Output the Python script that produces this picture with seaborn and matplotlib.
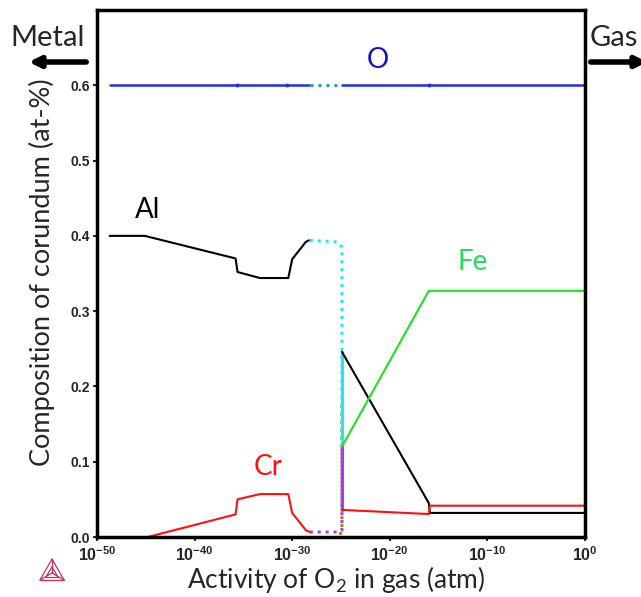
import numpy as np
import matplotlib.pyplot as plt
import seaborn as sns
from matplotlib.lines import Line2D
from matplotlib.ticker import NullLocator

# x values are log10(activity of O2)
o_solid1_logx = [-48.7, -28.3]
o_solid1_y = [0.6, 0.6]
o_dot_logx = [-28.2, -24.9]
o_dot_y = [0.6, 0.6]
o_solid2_logx = [-24.9, 0.0]
o_solid2_y = [0.6, 0.6]
o_mark_logx = [-35.7, -30.5, -16.0]
o_mark_y = [0.6, 0.6, 0.6]

al1_logx = [-48.7, -45.1, -35.8, -35.6, -33.3, -30.4, -30.0, -28.6, -28.3]
al1_y = [0.400, 0.400, 0.370, 0.352, 0.344, 0.344, 0.369, 0.392, 0.394]
al_dot_logx = [-28.2, -25.4, -24.9, -24.9]
al_dot_y = [0.394, 0.392, 0.385, 0.120]
al_cyan_logx = [-24.9, -24.9]
al_cyan_y = [0.246, 0.120]
al2_logx = [-24.9, -16.0, -15.9, 0.0]
al2_y = [0.246, 0.045, 0.032, 0.032]

cr1_logx = [-44.8, -35.8, -35.6, -33.3, -30.4, -30.0, -29.2, -28.6, -28.2]
cr1_y = [0.0, 0.030, 0.050, 0.057, 0.057, 0.032, 0.019, 0.009, 0.0066]
cr_dot_logx = [-28.2, -25.3, -24.9, -24.9]
cr_dot_y = [0.0066, 0.0066, 0.009, 0.120]
cr_purple_logx = [-24.9, -24.9]
cr_purple_y = [0.120, 0.036]
cr2_logx = [-24.9, -16.0, -15.9, 0.0]
cr2_y = [0.036, 0.0305, 0.0416, 0.0416]

fe_dot_logx = [-25.1, -24.9, -24.9]
fe_dot_y = [0.003, 0.01, 0.18]
fe_logx = [-24.9, -16.0, 0.0]
fe_y = [0.120, 0.327, 0.327]

xtick_exp = [-50, -40, -30, -20, -10, 0]
ytick_vals = [0.0, 0.1, 0.2, 0.3, 0.4, 0.5, 0.6]

sns.set_style('white')
plt.rcParams['font.family'] = ['Lato', 'DejaVu Sans']
plt.rcParams['mathtext.default'] = 'regular'

fig = plt.figure(figsize=(6.41, 5.97), dpi=100)
ax = fig.add_axes([0.1513, 0.1005, 0.7613, 0.8827])


def seg(logx, y, color, dotted=False, lw=1.5):
    kw = dict(dashes=(1.0, 1.6)) if dotted else {}
    sns.lineplot(x=10.0 ** np.asarray(logx), y=y, ax=ax, color=color,
                 linewidth=2.2 if dotted else lw, sort=False, estimator=None, **kw)


seg(o_solid1_logx, o_solid1_y, '#1f2fe8', lw=1.8)
seg(o_dot_logx, o_dot_y, '#2aa0a0', dotted=True)
seg(o_solid2_logx, o_solid2_y, '#1f2fe8', lw=1.8)
ax.plot(10.0 ** np.asarray(o_mark_logx), o_mark_y, 'o', ms=1.8, color='#1f2fe8')

seg(fe_dot_logx, fe_dot_y, '#a08020', dotted=True)
seg(al_dot_logx, al_dot_y, '#22e8f0', dotted=True)
seg(cr_dot_logx, cr_dot_y, '#a040f0', dotted=True)
seg(al_cyan_logx, al_cyan_y, '#22e8f0', lw=2.2)
seg(cr_purple_logx, cr_purple_y, '#a040f0', lw=2.2)

seg(al1_logx, al1_y, 'black')
seg(al2_logx, al2_y, 'black')
seg(cr1_logx, cr1_y, '#ff1010')
seg(cr2_logx, cr2_y, '#ff1010')
seg(fe_logx, fe_y, '#20e020')

ax.set_xscale('log')
ax.set_xlim(1e-50, 1)
ax.set_ylim(0, 0.70)
ax.set_xticks([10.0 ** e for e in xtick_exp])
ax.set_xticklabels(['10$^{%d}$' % e for e in xtick_exp])
ax.xaxis.set_minor_locator(NullLocator())
ax.set_yticks(ytick_vals)
ax.set_yticklabels(['%.1f' % v for v in ytick_vals])
ax.tick_params(direction='out', length=3, width=1.5, pad=2, labelsize=10,
               bottom=True, left=True)
ax.tick_params(axis='x', labelsize=11.5, pad=3)
for lab in ax.get_xticklabels() + ax.get_yticklabels():
    lab.set_fontweight('bold')
    lab.set_family('Liberation Sans')
for sp in ax.spines.values():
    sp.set_color('black')
    sp.set_linewidth(2.5)
ax.set_xlabel('')
ax.set_ylabel('')

# curve labels
ax.text(10.0 ** -21.2, 0.633, 'O', color='#1010c8', fontsize=20, ha='center', va='center')
ax.text(10.0 ** -44.8, 0.434, 'Al', color='black', fontsize=20, ha='center', va='center')
ax.text(10.0 ** -11.5, 0.365, 'Fe', color='#22dd55', fontsize=20, ha='center', va='center')
ax.text(10.0 ** -32.5, 0.093, 'Cr', color='#ff1010', fontsize=20, ha='center', va='center')

fig.text(0.0655, 0.544, 'Composition of corundum (at-%)', rotation=90,
         fontsize=19.5, ha='center', va='center')
fig.text(0.524, 0.030, 'Activity of O$_2$ in gas (atm)', fontsize=19,
         ha='center', va='center')

fig.text(0.074, 0.936, 'Metal', fontsize=21, ha='center', va='center')
fig.text(0.920, 0.936, 'Gas', fontsize=21, ha='left', va='center')
ay = 1 - 62 / 597
ax.annotate('', xy=(26 / 641, ay), xytext=(89 / 641, ay), xycoords='figure fraction',
            arrowprops=dict(arrowstyle='-|>', lw=4, color='black', mutation_scale=16))
ax.annotate('', xy=(650 / 641, ay), xytext=(588 / 641, ay), xycoords='figure fraction',
            arrowprops=dict(arrowstyle='-|>', lw=4, color='black', mutation_scale=16),
            annotation_clip=False)

# Thermo-Calc style logo
def px(p):
    return (p[0] / 641, 1 - p[1] / 597)

T, L, R, C = (52, 559), (40, 580), (64, 580), (52, 573)
I1, I2, I3 = (52, 567), (46, 577), (58, 577)
logo = [(T, L), (L, R), (R, T), (C, T), (C, L), (C, R), (I1, I2), (I2, I3), (I3, I1)]
for a, b in logo:
    pa, pb = px(a), px(b)
    fig.add_artist(Line2D([pa[0], pb[0]], [pa[1], pb[1]], transform=fig.transFigure,
                          color='#c0305a', lw=0.9))

fig.savefig('out.png', dpi=100)
